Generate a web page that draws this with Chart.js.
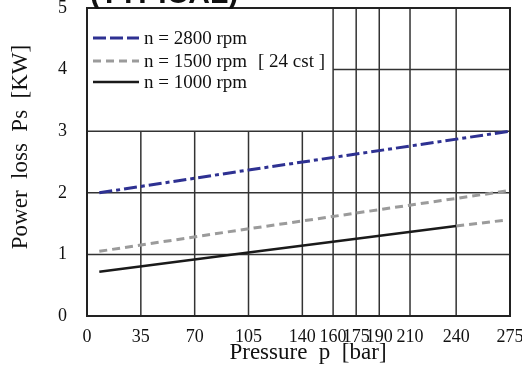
<!DOCTYPE html>
<html><head><meta charset="utf-8">
<script src="https://cdn.jsdelivr.net/npm/chart.js@4"></script>
<style>html,body{margin:0;padding:0;background:#fff}</style>
</head><body>
<canvas id="c" width="522" height="365"></canvas>
<script>
// ---- data ----
const xTicks = [0, 35, 70, 105, 140, 160, 175, 190, 210, 240, 275];
const yTicks = [0, 1, 2, 3, 4, 5];
const p2800 = [8, 105, 275];
const ps2800 = [2.0, 2.37, 3.0];
const p1500 = [8, 90, 273];
const ps1500 = [1.05, 1.36, 2.03];
const p1000 = [8, 105, 240];
const ps1000 = [0.72, 1.03, 1.46];
const p1000ext = [240, 273];
const ps1000ext = [1.46, 1.56];
const seriesLabels = ['n = 2800 rpm', 'n = 1500 rpm', 'n = 1000 rpm'];
const noteText = '[ 24 cst ]';
const chartTitle = '(TYPICAL)';
const xTitle = 'Pressure  p  [bar]';
const yTitle = 'Power  loss  Ps  [KW]';
const partGridX = [35, 70, 105, 140];
const fullGridX = [160, 175, 190, 210, 240];

const SERIF = '"Liberation Serif", "Times New Roman", serif';
const pts = (xs, ys) => xs.map((v, i) => ({x: v, y: ys[i]}));

const gridPlugin = {
  id: 'partialGrid',
  beforeDatasetsDraw(chart) {
    const {ctx, chartArea: a} = chart;
    const x = chart.scales.x, y = chart.scales.y;
    ctx.save();
    ctx.strokeStyle = '#333';
    ctx.lineWidth = 1.5;
    ctx.beginPath();
    partGridX.forEach(v => {
      const px = x.getPixelForValue(v);
      ctx.moveTo(px, y.getPixelForValue(0));
      ctx.lineTo(px, y.getPixelForValue(3));
    });
    fullGridX.forEach(v => {
      const px = x.getPixelForValue(v);
      ctx.moveTo(px, y.getPixelForValue(0));
      ctx.lineTo(px, y.getPixelForValue(5));
    });
    [1, 2, 3].forEach(v => {
      const py = y.getPixelForValue(v);
      ctx.moveTo(x.getPixelForValue(0), py);
      ctx.lineTo(x.getPixelForValue(275), py);
    });
    const p4 = y.getPixelForValue(4);
    ctx.moveTo(x.getPixelForValue(160), p4);
    ctx.lineTo(x.getPixelForValue(275), p4);
    ctx.stroke();
    ctx.lineWidth = 2;
    ctx.strokeStyle = '#222';
    ctx.strokeRect(a.left, a.top, a.right - a.left, a.bottom - a.top);
    ctx.restore();
  }
};

const textPlugin = {
  id: 'texts',
  afterDraw(chart) {
    const ctx = chart.ctx;
    ctx.save();
    // top title (cut off)
    ctx.fillStyle = '#111';
    ctx.font = 'bold 30px "Liberation Sans", Arial, sans-serif';
    ctx.textAlign = 'left';
    ctx.textBaseline = 'alphabetic';
    ctx.fillText(chartTitle, 90, 3);
    // legend
    const rows = [38, 61, 82];
    const dsIdx = [0, 1, 2];
    ctx.font = '19px ' + SERIF;
    ctx.textBaseline = 'middle';
    dsIdx.forEach((di, r) => {
      const ds = chart.data.datasets[di];
      ctx.save();
      ctx.strokeStyle = ds.borderColor;
      ctx.lineWidth = ds.borderWidth;
      ctx.setLineDash(ds.legendDash || []);
      ctx.beginPath();
      ctx.moveTo(93, rows[r]);
      ctx.lineTo(139, rows[r]);
      ctx.stroke();
      ctx.restore();
      ctx.fillStyle = '#111';
      ctx.fillText(ds.label, 144, rows[r] + 1);
    });
    ctx.fillText(noteText, 258, rows[1] + 1);
    // axis titles
    ctx.font = '23px ' + SERIF;
    ctx.textAlign = 'center';
    ctx.textBaseline = 'alphabetic';
    ctx.fillText(xTitle, 308, 359);
    ctx.translate(27, 147);
    ctx.rotate(-Math.PI / 2);
    ctx.fillText(yTitle, 0, 0);
    ctx.restore();
  }
};

new Chart(document.getElementById('c'), {
  type: 'line',
  data: {
    datasets: [
      {label: seriesLabels[0], data: pts(p2800, ps2800), borderColor: '#2e3192', borderWidth: 3,
       borderDash: [13, 4, 4, 4], legendDash: [13, 4], pointRadius: 0, fill: false},
      {label: seriesLabels[1], data: pts(p1500, ps1500), borderColor: '#9b9b9b', borderWidth: 3,
       borderDash: [8, 5], legendDash: [8, 5], pointRadius: 0, fill: false},
      {label: seriesLabels[2], data: pts(p1000, ps1000), borderColor: '#1a1a1a', borderWidth: 2.5,
       pointRadius: 0, fill: false},
      {label: 'n = 1000 rpm (ext)', data: pts(p1000ext, ps1000ext), borderColor: '#9b9b9b', borderWidth: 3,
       borderDash: [8, 5], pointRadius: 0, fill: false}
    ]
  },
  options: {
    responsive: false,
    animation: false,
    devicePixelRatio: 1,
    layout: {padding: {top: 8, right: 12, left: 0, bottom: 0}},
    plugins: {legend: {display: false}, tooltip: {enabled: false}, title: {display: false}},
    scales: {
      x: {
        type: 'linear', min: 0, max: 275,
        grid: {display: false}, border: {display: false},
        afterBuildTicks: s => { s.ticks = xTicks.map(v => ({value: v})); },
        afterFit: s => { s.height = 49; s.paddingLeft = 0; s.paddingRight = 0; },
        ticks: {autoSkip: false, maxRotation: 0, padding: 2, color: '#111',
                font: {family: SERIF, size: 18}}
      },
      y: {
        type: 'linear', min: 0, max: 5,
        grid: {display: false}, border: {display: false},
        afterBuildTicks: s => { s.ticks = yTicks.map(v => ({value: v})); },
        afterFit: s => { s.width = 87; s.paddingTop = 0; s.paddingBottom = 0; },
        ticks: {padding: 12, color: '#111', font: {family: SERIF, size: 18}}
      }
    }
  },
  plugins: [gridPlugin, textPlugin]
});
</script>
</body></html>
